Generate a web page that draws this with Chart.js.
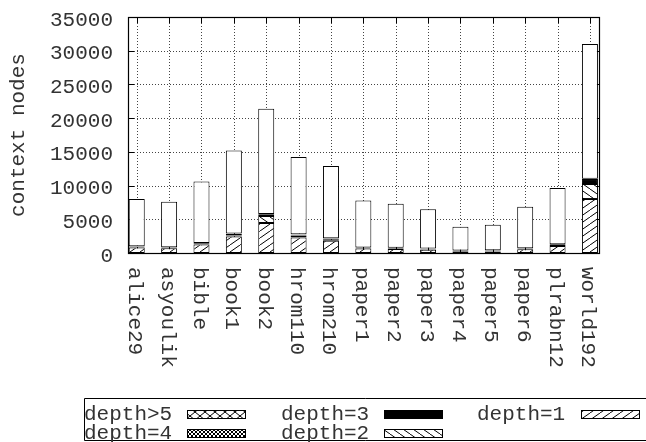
<!DOCTYPE html>
<html>
<head>
<meta charset="utf-8">
<script src="https://cdn.jsdelivr.net/npm/chart.js@4/dist/chart.umd.min.js"></script>
<style>
  html, body { margin: 0; padding: 0; background: #fff; }
  canvas { display: block; }
</style>
</head>
<body>
<canvas id="chart" width="646" height="442" style="width:646px;height:442px"></canvas>
<script>
// Files of the corpus, one stacked bar each
const categories = ['alice29', 'asyoulik', 'bible', 'book1', 'book2', 'hrom110', 'hrom210',
  'paper1', 'paper2', 'paper3', 'paper4', 'paper5', 'paper6', 'plrabn12', 'world192'];

// Context nodes per depth, bottom of the stack first
const depth1   = [800, 700, 1250, 2450, 4450, 2300, 1800, 650, 600, 500, 150, 200, 550, 1050, 8000];
const depth2   = [80, 70, 120, 150, 1050, 300, 250, 80, 70, 60, 60, 60, 60, 120, 2230];
const depth3   = [100, 80, 100, 60, 250, 120, 100, 80, 80, 70, 150, 120, 70, 120, 740];
const depth4   = [10, 10, 20, 200, 30, 40, 20, 10, 10, 10, 10, 10, 10, 10, 20];
const depthGt5 = [10, 10, 10, 30, 20, 10, 10, 10, 10, 10, 10, 10, 10, 10, 20];
// remaining nodes above the counted depths (plain, no key entry)
const upper    = [7000, 6730, 9100, 12310, 15600, 11480, 10720, 6970, 6530, 5850, 3520, 3800, 6150, 8340, 19990];

const yTicks = [0, 5000, 10000, 15000, 20000, 25000, 30000, 35000];

const FONT = '"Liberation Mono", "Courier New", monospace';
const FONT_SIZE = 21;
const TEXT = '#333';

// Line-hatch fill tiles
function tile(w, h, draw) {
  const c = document.createElement('canvas');
  c.width = w; c.height = h;
  const g = c.getContext('2d');
  g.fillStyle = '#fff';
  g.fillRect(0, 0, w, h);
  g.strokeStyle = '#000';
  g.lineWidth = 1;
  draw(g, w, h);
  return g.createPattern(c, 'repeat');
}
function fwd(g, w, h) {            // "/" lines
  g.beginPath();
  for (let k = -1; k <= 1; k++) { g.moveTo(k * w, h); g.lineTo(k * w + w, 0); }
  g.stroke();
}
function back(g, w, h) {           // "\" lines
  g.beginPath();
  for (let k = -1; k <= 1; k++) { g.moveTo(k * w, 0); g.lineTo(k * w + w, h); }
  g.stroke();
}
const ctx0 = document.getElementById('chart').getContext('2d');
const fills = {
  d1: tile(10, 7, fwd),
  d2: tile(10, 7, back),
  d3: '#000',
  d4: tile(4, 4, (g, w, h) => { fwd(g, w, h); back(g, w, h); }),
  d5: tile(10, 8, (g, w, h) => { fwd(g, w, h); back(g, w, h); }),
  up: '#fff'
};

const series = [
  { label: 'depth=1', values: depth1,   fill: fills.d1, key: true },
  { label: 'depth=2', values: depth2,   fill: fills.d2, key: true },
  { label: 'depth=3', values: depth3,   fill: fills.d3, key: true },
  { label: 'depth=4', values: depth4,   fill: fills.d4, key: true },
  { label: 'depth>5', values: depthGt5, fill: fills.d5, key: true },
  { label: 'rest',    values: upper,    fill: fills.up, key: false }
];

const datasets = series.map(s => ({
  label: s.label,
  data: s.values.map((v, i) => ({ x: i, y: v })),
  backgroundColor: s.fill,
  borderColor: '#000',
  borderWidth: 1,
  borderSkipped: false,
  inflateAmount: 0,
  barThickness: 16,
  showInKey: s.key
}));

// Dotted grid, frame, mirrored inward ticks, rotated category labels and a boxed key
const framePlugin = {
  id: 'frame',
  beforeDatasetsDraw(chart) {
    const { ctx, chartArea: a, scales: { x, y } } = chart;
    ctx.save();
    ctx.strokeStyle = '#444';
    ctx.lineWidth = 1;
    ctx.setLineDash([1, 2]);
    ctx.beginPath();
    yTicks.forEach(v => {
      const py = Math.round(y.getPixelForValue(v)) + 0.5;
      ctx.moveTo(a.left, py); ctx.lineTo(a.right, py);
    });
    categories.forEach((_, i) => {
      const px = Math.round(x.getPixelForValue(i)) + 0.5;
      ctx.moveTo(px, a.top); ctx.lineTo(px, a.bottom);
    });
    ctx.stroke();
    ctx.setLineDash([]);

    ctx.strokeStyle = '#000';
    ctx.beginPath();
    yTicks.forEach(v => {
      const py = Math.round(y.getPixelForValue(v)) + 0.5;
      ctx.moveTo(a.left, py); ctx.lineTo(a.left + 6, py);
      ctx.moveTo(a.right, py); ctx.lineTo(a.right - 6, py);
    });
    categories.forEach((_, i) => {
      const px = Math.round(x.getPixelForValue(i)) + 0.5;
      ctx.moveTo(px, a.top); ctx.lineTo(px, a.top + 6);
      ctx.moveTo(px, a.bottom); ctx.lineTo(px, a.bottom - 6);
    });
    ctx.stroke();
    ctx.restore();
  },
  afterDraw(chart) {
    const { ctx, chartArea: a, scales: { x } } = chart;
    ctx.save();
    // plot border
    ctx.strokeStyle = '#000';
    ctx.lineWidth = 1.2;
    ctx.strokeRect(Math.round(a.left) + 0.5, Math.round(a.top) + 0.5,
      Math.round(a.right - a.left), Math.round(a.bottom - a.top));

    // category labels, reading downward
    ctx.font = FONT_SIZE + 'px ' + FONT;
    ctx.fillStyle = TEXT;
    ctx.textAlign = 'left';
    ctx.textBaseline = 'middle';
    categories.forEach((name, i) => {
      ctx.save();
      ctx.translate(x.getPixelForValue(i) - 2, a.bottom + 14);
      ctx.rotate(Math.PI / 2);
      ctx.fillText(name, 0, 0);
      ctx.restore();
    });

    // key: titled series in reverse stacking order, filled column by column
    const keyed = chart.data.datasets.filter(d => d.showInKey).reverse();
    const boxL = 84.5, boxT = 398.5, boxB = 440.5;
    ctx.lineWidth = 1;
    ctx.beginPath();
    ctx.moveTo(chart.width + 2, boxT); ctx.lineTo(boxL, boxT);
    ctx.lineTo(boxL, boxB); ctx.lineTo(chart.width + 2, boxB);
    ctx.stroke();
    const colText = [84, 281, 477];
    const colSwatch = [187.5, 384.5, 581.5];
    const rowMid = [414, 433];
    keyed.forEach((d, k) => {
      const col = Math.floor(k / 2), row = k % 2;
      ctx.fillStyle = TEXT;
      ctx.textBaseline = 'middle';
      ctx.fillText(d.label, colText[col], rowMid[row]);
      const sx = colSwatch[col], sy = Math.round(rowMid[row] - 4) + 0.5;
      ctx.fillStyle = d.backgroundColor;
      ctx.fillRect(sx, sy, 58, 8);
      ctx.strokeStyle = '#000';
      ctx.strokeRect(sx, sy, 58, 8);
    });
    ctx.restore();
  }
};

new Chart(ctx0, {
  type: 'bar',
  data: { datasets },
  plugins: [framePlugin],
  options: {
    responsive: false,
    devicePixelRatio: 1,
    animation: false,
    events: [],
    layout: { padding: { top: 17, right: 47, left: 0, bottom: 0 } },
    plugins: { legend: { display: false }, tooltip: { enabled: false } },
    scales: {
      x: {
        type: 'linear',
        stacked: true,
        offset: false,
        min: -0.27,
        max: 14.28,
        afterBuildTicks: s => { s.ticks = categories.map((_, i) => ({ value: i })); },
        afterFit: s => { s.height = 189; s.paddingLeft = 0; s.paddingRight = 0; },
        ticks: { display: false },
        grid: { display: false, drawTicks: false },
        border: { display: false }
      },
      y: {
        stacked: true,
        min: 0,
        max: 35000,
        afterBuildTicks: s => { s.ticks = yTicks.map(v => ({ value: v })); },
        afterFit: s => { s.width = 128; s.paddingTop = 0; s.paddingBottom = 0; },
        ticks: {
          padding: 15,
          labelOffset: 3,
          color: TEXT,
          font: { family: FONT, size: FONT_SIZE },
          callback: v => String(v)
        },
        grid: { display: false, drawTicks: false },
        border: { display: false },
        title: {
          display: true,
          text: 'context nodes',
          color: TEXT,
          font: { family: FONT, size: FONT_SIZE },
          padding: { top: 6, bottom: 0 }
        }
      }
    }
  }
});
</script>
</body>
</html>
